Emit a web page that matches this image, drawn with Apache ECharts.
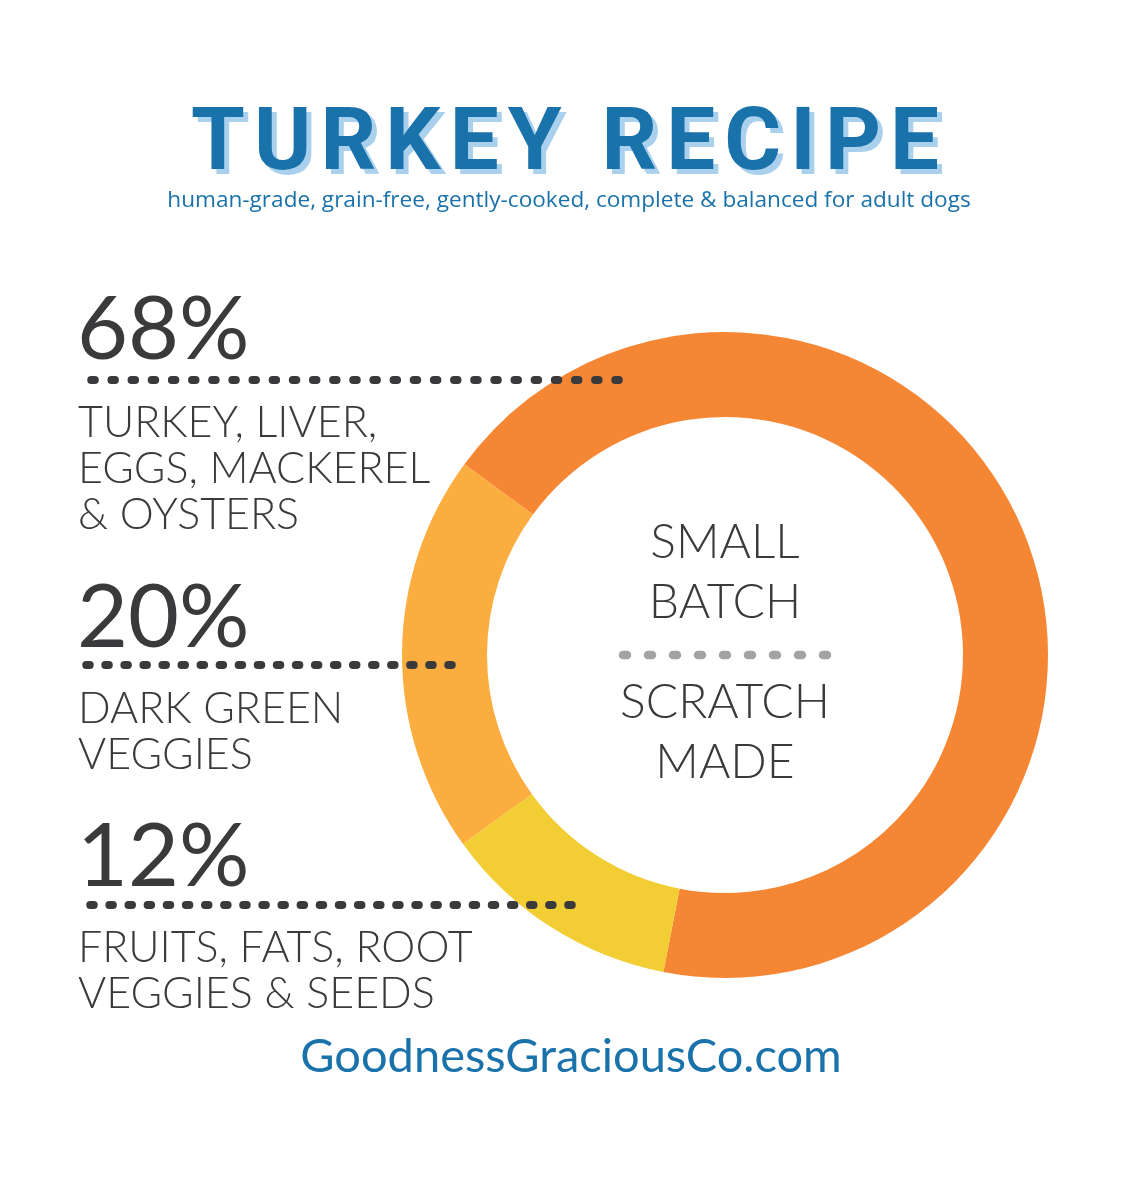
<!DOCTYPE html>
<html><head><meta charset="utf-8">
<script src="https://cdn.jsdelivr.net/npm/echarts@6/dist/echarts.min.js"></script>
<style>html,body{margin:0;padding:0;background:#fff}#c{width:1127px;height:1200px}</style>
</head><body><div id="c"></div>
<script>
// ---- data ----
const categories = ['TURKEY, LIVER,\nEGGS, MACKEREL\n& OYSTERS', 'DARK GREEN\nVEGGIES', 'FRUITS, FATS, ROOT\nVEGGIES & SEEDS'];
const values = [68, 20, 12];
const colors = ['#F58634', '#FBAD40', '#F2CD34'];
const titleText = 'TURKEY RECIPE';
const subtitleText = 'human-grade, grain-free, gently-cooked, complete & balanced for adult dogs';
const centerTop = 'SMALL\nBATCH';
const centerBottom = 'SCRATCH\nMADE';
const footerText = 'GoodnessGraciousCo.com';

const BLUE = '#1A72AB', SHADOW = '#A9D0EC', DARK = '#3A3A3C';
const THIN = 'Lato';

// title per-letter layout (letter spacing)
function titleLetters() {
  const font = 'bold 87px Roboto';
  const ctx = document.createElement('canvas').getContext('2d');
  ctx.font = font;
  const chars = titleText.split('');
  const widths = chars.map(c => ctx.measureText(c).width);
  const natural = widths.reduce((a, b) => a + b, 0);
  const target = 748;
  const sp = (target - natural) / (chars.length - 1);
  let x = 565 - target / 2;
  const els = [];
  chars.forEach((c, i) => {
    if (c !== ' ') {
      els.push({ type: 'text', x: x + 5, y: 147 + 5, z: 50, style: { text: c, font: font, fill: SHADOW, align: 'left', verticalAlign: 'middle' } });
      els.push({ type: 'text', x: x, y: 147, z: 51, style: { text: c, font: font, fill: BLUE, align: 'left', verticalAlign: 'middle' } });
    }
    x += widths[i] + sp;
  });
  return els;
}

// dotted line: first/last dot centres and dot count
function dotted(first, last, n, y, color, w, d) {
  const period = (last - first) / (n - 1);
  const x1 = first - d / 2;
  return { type: 'line', z: 100, shape: { x1: x1, y1: y, x2: last + d / 2 + 0.5, y2: y },
    style: { stroke: color, lineWidth: w, lineCap: 'round', lineDash: [d, period - d] } };
}

const pctY = [331, 619, 858];
const lineY = [380, 665, 905];
const dotFirst = [93, 88, 92];
const dotLast = [617, 450, 570];
const dotCount = [27, 20, 26];
const labY = [423, 709, 948];

const graphics = [].concat(titleLetters());
graphics.push({ type: 'text', x: 569, y: 201, style: { text: subtitleText, fontFamily: 'Open Sans', fontSize: 22.6, fill: BLUE, align: 'center', verticalAlign: 'middle' } });
values.forEach((v, i) => {
  graphics.push({ type: 'text', x: 77, y: pctY[i], style: { text: v + '%', fontFamily: 'Lato', fontWeight: 'normal', fontSize: 88, fill: DARK, align: 'left', verticalAlign: 'middle' } });
  graphics.push(dotted(dotFirst[i], dotLast[i], dotCount[i], lineY[i], DARK, 8, 3.5));
  graphics.push({ type: 'text', x: 78, y: labY[i] - 23, style: { text: categories[i], fontFamily: THIN, fontWeight: 300, fontSize: 43, lineHeight: 46, fill: DARK, align: 'left', verticalAlign: 'top' } });
});
graphics.push({ type: 'text', x: 725, y: 543 - 30, z: 60, style: { text: centerTop, fontFamily: THIN, fontWeight: 300, fontSize: 48, lineHeight: 60, fill: DARK, align: 'center', verticalAlign: 'top' } });
graphics.push(dotted(625, 825, 9, 655, '#A3A3A3', 8.5, 4));
graphics.push({ type: 'text', x: 725, y: 703 - 30, z: 60, style: { text: centerBottom, fontFamily: THIN, fontWeight: 300, fontSize: 48, lineHeight: 60, fill: DARK, align: 'center', verticalAlign: 'top' } });
graphics.push({ type: 'text', x: 571, y: 1057, style: { text: footerText, fontFamily: 'Lato', fontSize: 47, fill: BLUE, align: 'center', verticalAlign: 'middle' } });

const chart = echarts.init(document.getElementById('c'), null, { renderer: 'canvas' });
chart.setOption({
  backgroundColor: '#ffffff',
  animation: false,
  series: [{
    type: 'pie',
    center: [725, 655],
    radius: [238, 323],
    startAngle: 259,
    clockwise: false,
    label: { show: false },
    labelLine: { show: false },
    silent: true,
    data: values.map((v, i) => ({ value: v, name: categories[i], itemStyle: { color: colors[i] } }))
  }],
  graphic: { elements: graphics }
});
</script></body></html>
